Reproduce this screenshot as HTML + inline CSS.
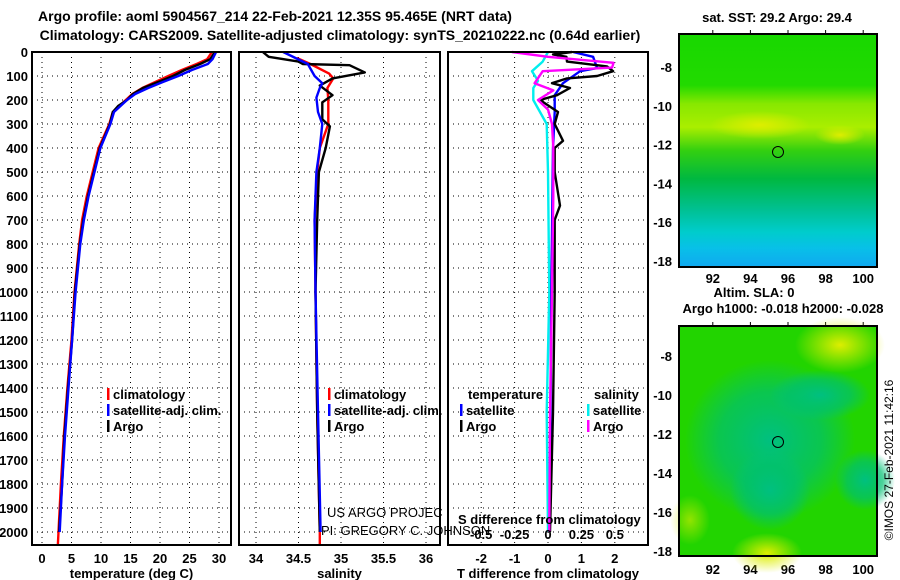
<!DOCTYPE html>
<html><head><meta charset="utf-8"><style>
body{margin:0;background:#fff;}
svg{display:block;font-family:"Liberation Sans",sans-serif;}
.b{font-weight:bold;font-size:13px;}
</style></head><body>
<svg id="chart" width="900" height="580" viewBox="0 0 900 580">
<defs>
<linearGradient id="sstg" x1="0" y1="0" x2="0" y2="1">
<stop offset="0" stop-color="#18d800"/><stop offset="0.22" stop-color="#22da00"/>
<stop offset="0.3" stop-color="#88e800"/><stop offset="0.4" stop-color="#aaee00"/>
<stop offset="0.5" stop-color="#33d010"/><stop offset="0.62" stop-color="#00b840"/>
<stop offset="0.75" stop-color="#00c090"/><stop offset="0.85" stop-color="#00cccc"/>
<stop offset="0.92" stop-color="#08c0e8"/><stop offset="1" stop-color="#10a8f0"/>
</linearGradient>
<radialGradient id="y1" cx="0.5" cy="0.5" r="0.5"><stop offset="0" stop-color="#ddee00"/><stop offset="1" stop-color="#ddee00" stop-opacity="0"/></radialGradient>
<radialGradient id="t1" cx="0.5" cy="0.5" r="0.5"><stop offset="0" stop-color="#00c080"/><stop offset="0.6" stop-color="#00c070" stop-opacity="0.7"/><stop offset="1" stop-color="#00c080" stop-opacity="0"/></radialGradient>
</defs>
<g id="panels"></g>
<g class="b" font-size="14" text-anchor="middle">
<text x="275" y="21" style="font-size:14px">Argo profile: aoml 5904567_214 22-Feb-2021 12.35S 95.465E (NRT data)</text>
<text x="340" y="40" style="font-size:14px">Climatology: CARS2009. Satellite-adjusted climatology: synTS_20210222.nc (0.64d earlier)</text>
</g>
<g>
<rect x="679" y="34" width="198" height="233" fill="url(#sstg)"/>
<ellipse cx="760" cy="125" rx="50" ry="14" fill="url(#y1)"/>
<ellipse cx="840" cy="135" rx="25" ry="10" fill="url(#y1)"/>
<rect x="679" y="34" width="198" height="233" fill="none" stroke="#000" stroke-width="2"/>
<circle cx="778" cy="152" r="5.5" fill="none" stroke="#000"/>
<text class="b" x="777" y="22" text-anchor="middle">sat. SST: 29.2 Argo: 29.4</text>
</g>
<g>
<rect x="679" y="326" width="198" height="230" fill="#22d400"/>
<ellipse cx="770" cy="440" rx="85" ry="80" fill="url(#t1)"/>
<ellipse cx="820" cy="395" rx="50" ry="25" fill="url(#t1)"/>
<ellipse cx="770" cy="490" rx="40" ry="40" fill="url(#t1)"/>
<ellipse cx="865" cy="480" rx="30" ry="30" fill="url(#t1)"/>
<ellipse cx="840" cy="345" rx="45" ry="28" fill="url(#y1)"/>
<ellipse cx="767" cy="553" rx="35" ry="20" fill="url(#y1)"/>
<ellipse cx="690" cy="520" rx="20" ry="25" fill="url(#y1)" opacity="0.6"/>
<rect x="679" y="326" width="198" height="230" fill="none" stroke="#000" stroke-width="2"/>
<circle cx="778" cy="442" r="5.5" fill="none" stroke="#000"/>
<text class="b" x="754" y="297" text-anchor="middle">Altim. SLA: 0</text>
<text class="b" x="783" y="313" text-anchor="middle">Argo h1000: -0.018 h2000: -0.028</text>
</g>
<text transform="translate(893,460) rotate(-90)" text-anchor="middle" font-size="12">©IMOS 27-Feb-2021 11:42:16</text>
<g font-size="13">
<text x="327" y="517">US ARGO PROJEC</text>
<text x="321" y="535">PI: GREGORY C. JOHNSON</text>
</g>
</svg>
<script>
const depthTicks=[0,100,200,300,400,500,600,700,800,900,1000,1100,1200,1300,1400,1500,1600,1700,1800,1900,2000];
const tempTicks=[0,5,10,15,20,25,30];
const salTicks=[34,34.5,35,35.5,36];
const tdTicks=[-2,-1,0,1,2];
const sdTicks=[-0.5,-0.25,0,0.25,0.5];
const tArgoDepth=[0,30,50,75,100,125,150,175,200,225,250,300,400,500,600,700,800,1000,1200,1400,1600,1800,2000];
const tArgo=[29.3,28.5,26.8,24.2,22.2,19.7,17.1,15.4,14.4,12.9,12.0,11.5,9.8,8.8,7.8,7.0,6.4,5.6,5.1,4.4,3.8,3.4,2.9];
const tClimDepth=[0,30,50,75,100,125,150,175,200,250,300,400,500,600,700,800,1000,1200,1400,1600,1800,2000,2050];
const tClim=[28.8,28.0,26.2,23.7,21.4,19.2,17.0,15.3,14.2,12.0,11.4,9.6,8.6,7.6,6.8,6.3,5.5,5.0,4.3,3.7,3.2,2.8,2.7];
const tSatDepth=[0,30,50,75,100,125,150,175,200,250,300,400,500,600,700,800,1000,1200,1400,1600,1800,2000];
const tSat=[29.5,28.9,28.1,25.4,23.1,20.5,18.0,15.8,14.4,12.2,11.6,9.9,8.9,7.9,7.1,6.5,5.7,5.1,4.5,3.9,3.4,3.0];
const sArgoDepth=[0,20,40,50,55,85,110,140,180,210,280,310,400,500,700,1000,1500,2000];
const sArgo=[34.08,34.15,34.5,34.55,35.1,35.28,34.9,34.75,34.9,34.78,34.78,34.87,34.82,34.74,34.72,34.7,34.72,34.75];
const sClimDepth=[25,50,90,110,150,200,300,400,500,700,1000,1500,2000,2050];
const sClim=[34.48,34.64,34.86,34.91,34.84,34.85,34.85,34.75,34.72,34.69,34.7,34.72,34.75,34.75];
const sSatDepth=[0,50,100,130,150,190,250,300,400,500,700,1000,1500,2000];
const sSat=[34.32,34.61,34.69,34.78,34.75,34.71,34.73,34.78,34.75,34.71,34.69,34.7,34.73,34.76];
const dTsatDepth=[0,20,67,80,130,180,250,400,1000,2000];
const dTsat=[0.75,1.35,1.47,0.96,0.45,0.2,0.2,0.15,0.1,0.05];
const dTargoDepth=[0,10,20,40,60,80,100,110,130,150,180,200,250,300,370,400,500,640,700,1000,1500,2000];
const dTargo=[0.72,0.15,0.55,0.57,1.77,1.95,1.47,0.57,0.12,0.66,0.27,-0.24,0.3,0.2,0.45,0.2,0.2,0.36,0.2,0.2,0.15,0.06];
const dSargoDepth=[0,20,45,65,80,130,160,200,240,300,400,600,1000,1500,2000];
const dSargo=[-0.27,0.0,0.49,0.48,-0.04,-0.1,0.04,-0.075,0.0,0.03,0.04,0.04,0.03,0.015,0.01];
const dSsatDepth=[0,40,80,120,150,200,300,500,1000,1500,2000];
const dSsat=[0,-0.04,-0.12,-0.075,-0.11,-0.11,-0.01,0,0.01,-0.01,0];

const NS='http://www.w3.org/2000/svg';
const root=document.getElementById('panels');
const Y0=52,PY=0.24;
const yD=d=>Y0+d*PY;
function mk(tag,at,parent){const e=document.createElementNS(NS,tag);for(const k in at)e.setAttribute(k,at[k]);(parent||root).appendChild(e);return e;}
function txt(s,at,parent){const e=mk('text',at,parent);e.textContent=s;return e;}
const panels=[
 {x0:32,x1:231,f:v=>42+v*5.9,ticks:tempTicks,label:'temperature (deg C)',name:'temperature-panel'},
 {x0:239,x1:440,f:v=>256+(v-34)*85,ticks:salTicks,label:'salinity',name:'salinity-panel'},
 {x0:448,x1:648,f:v=>548+v*33.4,ticks:tdTicks,label:'T difference from climatology',name:'difference-panel'}
];
const fS=v=>548+v*133.6;
panels.forEach((p,i)=>{
 const g=mk('g',{});
 
 
 depthTicks.forEach(d=>{
  const l=mk('line',{x1:p.x0,x2:p.x1,y1:yD(d),y2:yD(d),stroke:'#000','stroke-dasharray':'1,4'},g);
  
  
 });
 p.ticks.forEach(t=>{
  const x=p.f(t);
  const l=mk('line',{x1:x,x2:x,y1:Y0,y2:545,stroke:'#000','stroke-dasharray':'1,4'},g);
  
  
  const tl=txt(String(t),{x:x,y:563,'text-anchor':'middle',class:'b'},g);
  
  
 });
 const al=txt(p.label,{x:(p.x0+p.x1)/2,y:578,'text-anchor':'middle',class:'b'},g);
 
 
 p.g=g;
});
depthTicks.forEach(d=>{
 const t=txt(String(d),{x:28,y:yD(d)+5,'text-anchor':'end',class:'b'});
 
 
});
function line(g,xs,ds,f,color,name){
 const pts=xs.map((v,i)=>f(v).toFixed(1)+','+yD(ds[i]).toFixed(1)).join(' ');
 const pl=mk('polyline',{points:pts,fill:'none',stroke:color,'stroke-width':2.4,'stroke-linejoin':'round'},g);
 
 
}
const P=panels;
line(P[0].g,tClim,tClimDepth,P[0].f,'#f00','temp-climatology-line');
line(P[0].g,tArgo,tArgoDepth,P[0].f,'#000','temp-argo-line');
line(P[0].g,tSat,tSatDepth,P[0].f,'#00f','temp-satellite-line');
line(P[1].g,sClim,sClimDepth,P[1].f,'#f00','sal-climatology-line');
line(P[1].g,sArgo,sArgoDepth,P[1].f,'#000','sal-argo-line');
line(P[1].g,sSat,sSatDepth,P[1].f,'#00f','sal-satellite-line');
line(P[2].g,dSsat,dSsatDepth,fS,'#0ee','sdiff-satellite-line');
line(P[2].g,dTsat,dTsatDepth,P[2].f,'#00f','tdiff-satellite-line');
line(P[2].g,dTargo,dTargoDepth,P[2].f,'#000','tdiff-argo-line');
line(P[2].g,dSargo,dSargoDepth,fS,'#f0f','sdiff-argo-line');
const sl=txt('S difference from climatology',{x:458,y:524,class:'b'},P[2].g);


sdTicks.forEach(t=>{
 const e=txt(String(t),{x:fS(t),y:539,'text-anchor':'middle',class:'b'},P[2].g);
 
 
});
panels.forEach(p=>{
 const r=mk('rect',{x:p.x0,y:Y0,width:p.x1-p.x0,height:545-Y0,fill:'none',stroke:'#000','stroke-width':2},p.g);
 
 
});
function leg(g,x,y,color,label){
 const r=mk('rect',{x:x,y:y-11,width:2.5,height:12,fill:color},g);
 
 
 const t=txt(label,{x:x+6,y:y,class:'b'},g);
 
 
}
leg(P[0].g,107,399,'#f00','climatology');
leg(P[0].g,107,415,'#00f','satellite-adj. clim.');
leg(P[0].g,107,431,'#000','Argo');
leg(P[1].g,328,399,'#f00','climatology');
leg(P[1].g,328,415,'#00f','satellite-adj. clim.');
leg(P[1].g,328,431,'#000','Argo');
const lt=txt('temperature',{x:468,y:399,class:'b'},P[2].g);


const ls=txt('salinity',{x:594,y:399,class:'b'},P[2].g);


leg(P[2].g,460,415,'#00f','satellite');
leg(P[2].g,460,431,'#000','Argo');
leg(P[2].g,587,415,'#0ee','satellite');
leg(P[2].g,587,431,'#f0f','Argo');
const latT=[-8,-10,-12,-14,-16,-18], lonT=[92,94,96,98,100];
[[34,67,19.4,283],[326,356,19.5,574]].forEach(m=>{
 const g=mk('g',{});
 
 
 latT.forEach((v,i)=>{
  const y=m[1]+i*(m[2]*2);
  const t=txt(String(v),{x:672,y:y+5,'text-anchor':'end',class:'b'},g);
  
  
  mk('line',{x1:873,x2:877,y1:y,y2:y,stroke:'#000'},g);
 });
 lonT.forEach(v=>{
  const x=788+(v-96)*18.8;
  const t=txt(String(v),{x:x,y:m[3],'text-anchor':'middle',class:'b'},g);
  
  
  mk('line',{x1:x,x2:x,y1:m[0],y2:m[0]-4,stroke:'#000'},g);
 });
});
</script>
</body></html>
